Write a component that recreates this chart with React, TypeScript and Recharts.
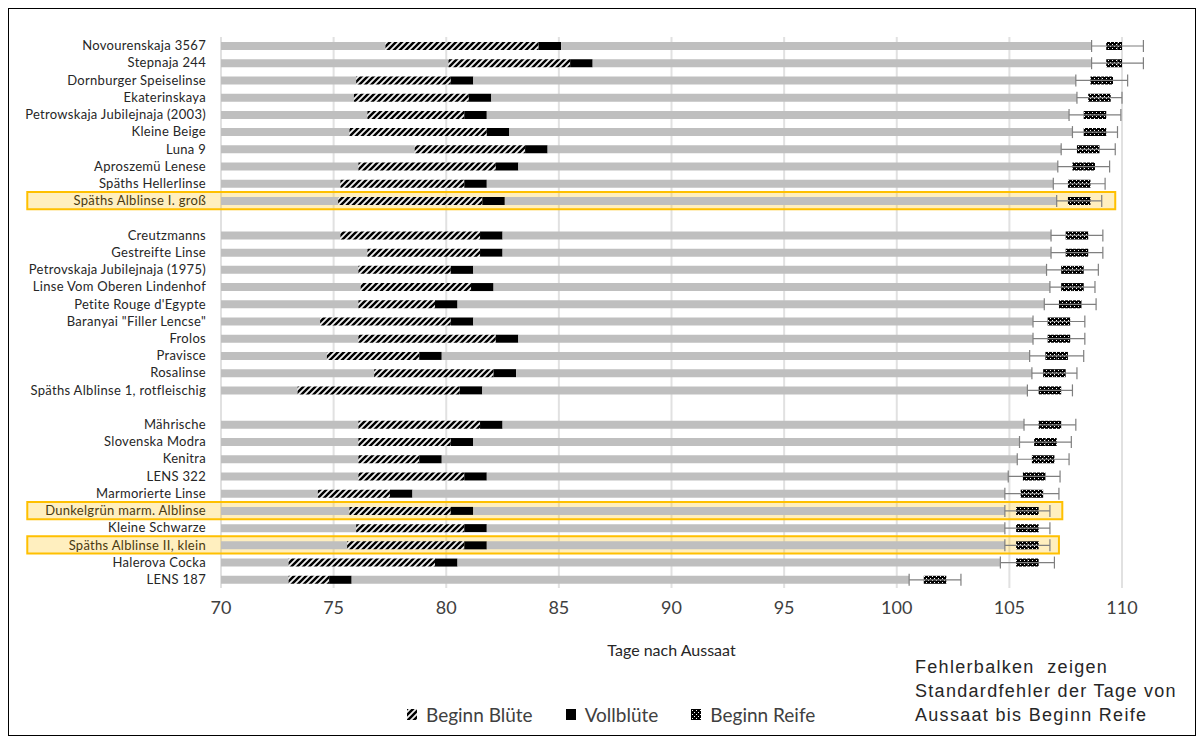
import React from "react";
import {
    ComposedChart,
    Bar,
    XAxis,
    YAxis,
    CartesianGrid,
    ErrorBar,
    ReferenceArea,
} from "recharts";

// Sorten von oben nach unten, "luecke*" = Leerzeile zwischen den Gruppen
const sorten = [
    "Novourenskaja 3567",
    "Stepnaja 244",
    "Dornburger Speiselinse",
    "Ekaterinskaya",
    "Petrowskaja Jubilejnaja (2003)",
    "Kleine Beige",
    "Luna 9",
    "Aproszemü Lenese",
    "Späths Hellerlinse",
    "Späths Alblinse I. groß",
    "luecke1",
    "Creutzmanns",
    "Gestreifte Linse",
    "Petrovskaja Jubilejnaja (1975)",
    "Linse Vom Oberen Lindenhof",
    "Petite Rouge d'Egypte",
    'Baranyai "Filler Lencse"',
    "Frolos",
    "Pravisce",
    "Rosalinse",
    "Späths Alblinse 1, rotfleischig",
    "luecke2",
    "Mährische",
    "Slovenska Modra",
    "Kenitra",
    "LENS 322",
    "Marmorierte Linse",
    "Dunkelgrün marm. Alblinse",
    "Kleine Schwarze",
    "Späths Alblinse II, klein",
    "Halerova Cocka",
    "LENS 187",
];

// Tage nach Aussaat
const beginnBluete = [
    77.3, 80.1, 76.0, 75.9, 76.5, 75.7, 78.6, 76.1, 75.3, 75.2, null,
    75.3, 76.5, 76.1, 76.2, 76.1, 74.4, 76.1, 74.7, 76.8, 73.4, null,
    76.1, 76.1, 76.1, 76.1, 74.3, 75.7, 76.0, 75.6, 73.0, 73.0,
];
const vollbluete = [
    84.1, 85.5, 80.2, 81.0, 80.8, 81.8, 83.5, 82.2, 80.8, 81.6, null,
    81.5, 81.5, 80.2, 81.1, 79.5, 80.2, 82.2, 78.8, 82.1, 80.6, null,
    81.5, 80.2, 78.8, 80.8, 77.5, 80.2, 80.8, 80.8, 79.5, 74.8,
];
const beginnReife = [
    109.8, 109.8, 109.1, 109.0, 108.8, 108.8, 108.5, 108.3, 108.1, 108.1, null,
    108.0, 108.0, 107.8, 107.8, 107.7, 107.2, 107.2, 107.1, 107.0, 106.8, null,
    106.8, 106.6, 106.5, 106.1, 106.0, 105.8, 105.8, 105.8, 105.8, 101.7,
];
const standardfehler = [
    1.15, 1.15, 1.15, 1.0, 1.15, 1.0, 1.2, 1.15, 1.15, 1.0, null,
    1.15, 1.15, 1.15, 1.0, 1.15, 1.15, 1.15, 1.2, 1.0, 1.0, null,
    1.15, 1.15, 1.15, 1.15, 1.2, 1.0, 1.0, 1.0, 1.2, 1.15,
];

const xTicks = [70, 75, 80, 85, 90, 95, 100, 105, 110];

// gelb markierte Zeilen
const markiert = [
    "Späths Alblinse I. groß",
    "Dunkelgrün marm. Alblinse",
    "Späths Alblinse II, klein",
];
const markiertBis = [109.7, 107.35, 107.2];
const markiertVon = 61.4;

// Breite der Markierung für Vollblüte / Beginn Reife (Tage)
const markerTage = 1;

const chartData = sorten.map((name, i) => {
    const b = beginnBluete[i];
    const v = vollbluete[i];
    const r = beginnReife[i];
    const se = standardfehler[i];
    if (b == null || v == null || r == null || se == null) return { name };
    return {
        name,
        grau1: b,
        bluete: v - b,
        voll: markerTage,
        grau2: r - se - (v + markerTage),
        luecke: se - markerTage / 2,
        reifeA: markerTage / 2,
        reifeB: markerTage / 2,
        se,
    };
});

const font = "Lato, 'Open Sans', sans-serif";

function Muster() {
    return (
        <svg width={0} height={0} style={{ position: "absolute" }}>
            <defs>
                <pattern id="schraffur" patternUnits="userSpaceOnUse" width={6} height={6}>
                    <rect width={6} height={6} fill="#eeeeee" />
                    <path d="M-1,1 l2,-2 M0,6 l6,-6 M5,7 l2,-2" stroke="#000" strokeWidth={2.4} />
                </pattern>
                <pattern id="karo" patternUnits="userSpaceOnUse" width={4} height={4}>
                    <rect width={4} height={4} fill="#000" />
                    <rect x={1} y={1} width={1} height={1} fill="#fff" />
                    <rect x={3} y={3} width={1} height={1} fill="#fff" />
                </pattern>
            </defs>
        </svg>
    );
}

function LegendItem({ fill, label }: { fill: string; label: string }) {
    return (
        <div style={{ display: "flex", alignItems: "center", marginRight: 33 }}>
            <svg width={10} height={11} style={{ marginRight: 9 }}>
                <rect width={10} height={11} fill={fill} />
            </svg>
            <span>{label}</span>
        </div>
    );
}

function SortenTick(props: any) {
    const { x, y, payload } = props;
    const name: string = payload.value;
    if (name.startsWith("luecke")) return null;
    const hervor = markiert.includes(name);
    return (
        <text
            x={x}
            y={y}
            dy="0.355em"
            textAnchor="end"
            fill={hervor ? "#4a3a10" : "#262626"}
            fontSize={13}
            fontFamily={font}
            letterSpacing={0.3}
        >
            {name}
        </text>
    );
}

export default function App() {
    return (
        <div
            style={{
                position: "relative",
                width: 1186,
                height: 726,
                border: "1px solid #000",
                background: "#fff",
                fontFamily: font,
            }}
        >
            <Muster />
            <ComposedChart
                width={1186}
                height={726}
                data={chartData}
                layout="vertical"
                margin={{ top: 28, right: 73, bottom: 72, left: 0 }}
                barCategoryGap={0}
            >
                <XAxis
                    type="number"
                    domain={[70, 110]}
                    ticks={xTicks}
                    allowDataOverflow
                    axisLine={false}
                    tickLine={false}
                    tickSize={6}
                    tickMargin={7}
                    height={75}
                    tick={{ fill: "#404040", fontSize: 18, fontFamily: font }}
                    label={{
                        value: "Tage nach Aussaat",
                        position: "insideBottom",
                        offset: 7,
                        fill: "#262626",
                        fontSize: 16,
                        fontFamily: font,
                    }}
                />
                <YAxis
                    type="category"
                    dataKey="name"
                    width={212}
                    interval={0}
                    axisLine={false}
                    tickLine={false}
                    tickSize={6}
                    tickMargin={9}
                    tick={<SortenTick />}
                />
                <Bar dataKey="grau1" stackId="a" fill="#bfbfbf" barSize={8} isAnimationActive={false} />
                <Bar dataKey="bluete" stackId="a" fill="url(#schraffur)" barSize={8} isAnimationActive={false} />
                <Bar dataKey="voll" stackId="a" fill="#000" barSize={8} isAnimationActive={false} />
                <Bar dataKey="grau2" stackId="a" fill="#bfbfbf" barSize={8} isAnimationActive={false} />
                <Bar dataKey="luecke" stackId="a" fill="transparent" barSize={8} isAnimationActive={false} />
                <Bar dataKey="reifeA" stackId="a" fill="url(#karo)" barSize={8} isAnimationActive={false}>
                    <ErrorBar dataKey="se" direction="x" width={6} stroke="#7f7f7f" strokeWidth={1.2} />
                </Bar>
                <Bar dataKey="reifeB" stackId="a" fill="url(#karo)" barSize={8} isAnimationActive={false} />
                <CartesianGrid horizontal={false} stroke="#d9d9d9" strokeWidth={2} strokeOpacity={0.8} />
                {markiert.map((name, i) => (
                    <ReferenceArea
                        key={name}
                        y1={name}
                        y2={name}
                        x1={markiertVon}
                        x2={markiertBis[i]}
                        ifOverflow="visible"
                        fill="#ffc000"
                        fillOpacity={0.25}
                        stroke="#ffc000"
                        strokeWidth={2}
                    />
                ))}
            </ComposedChart>

            <div
                style={{
                    position: "absolute",
                    left: 398,
                    top: 694,
                    display: "flex",
                    fontSize: 19,
                    color: "#404040",
                    whiteSpace: "nowrap",
                }}
            >
                <LegendItem fill="url(#schraffur)" label="Beginn Blüte" />
                <LegendItem fill="#000" label="Vollblüte" />
                <LegendItem fill="url(#karo)" label="Beginn Reife" />
            </div>

            <div
                style={{
                    position: "absolute",
                    left: 906,
                    top: 646,
                    fontFamily: "'Liberation Sans', Arial, sans-serif",
                    fontSize: 18,
                    letterSpacing: 1.3,
                    lineHeight: "24px",
                    color: "#262626",
                    whiteSpace: "pre",
                }}
            >
                {"Fehlerbalken  zeigen\nStandardfehler der Tage von\nAussaat bis Beginn Reife"}
            </div>
        </div>
    );
}
